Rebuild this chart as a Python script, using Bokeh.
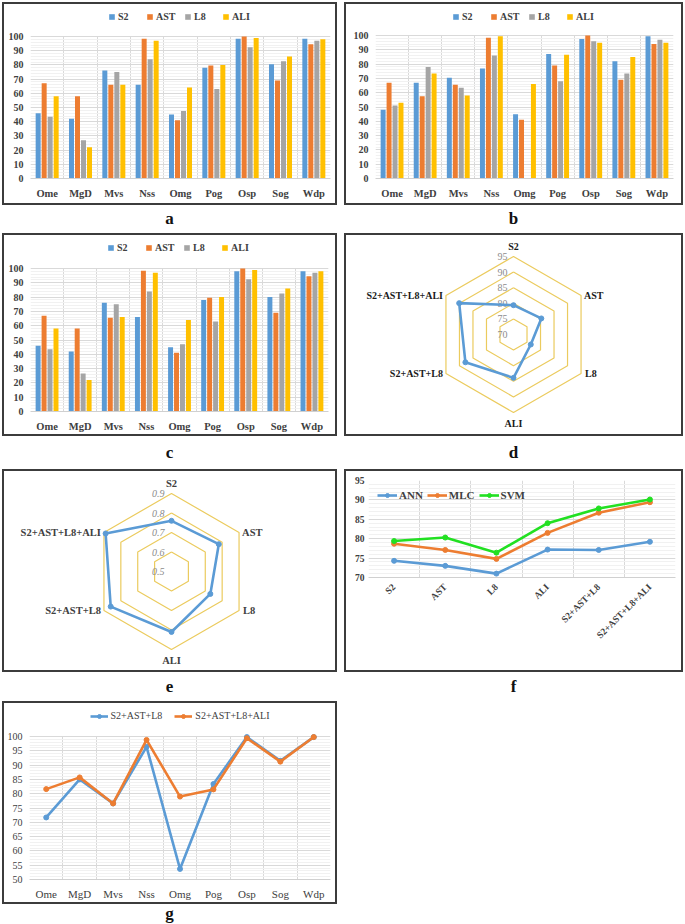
import math
import numpy as np
from bokeh.plotting import figure
from bokeh.models import Range1d, FixedTicker, Legend, LegendItem, Div
from bokeh.layouts import row, column
from bokeh.embed import file_html
from bokeh.resources import INLINE
from bokeh.core.properties import value

nan = float("nan")

# ---------------- data ----------------
classes = ["Ome", "MgD", "Mvs", "Nss", "Omg", "Pog", "Osp", "Sog", "Wdp"]
sensors = ["S2", "AST", "L8", "ALI"]

a_S2 = [46, 42, 76, 66, 45, 78, 98.5, 80.5, 98.5]
a_AST = [67, 58, 66, 98.5, 41, 79.5, 100, 69, 94.5]
a_L8 = [43.5, 27, 75, 84, 47.5, 63, 92.5, 82.5, 97]
a_ALI = [58, 22, 66, 97, 64, 80, 99, 86, 98]

b_S2 = [48, 67, 70.5, 77, 45, 87, 97.5, 82, 99.5]
b_AST = [67, 57.5, 65.5, 98.5, 41, 79, 100, 69, 94]
b_L8 = [51, 78, 63.5, 86, nan, 68, 96, 73.5, 97]
b_ALI = [53, 73.5, 58, 99.5, 66, 86.5, 95, 85, 95]

c_S2 = [46, 42, 76, 66, 45, 78, 98, 80, 98]
c_AST = [67, 58, 65.5, 98.5, 41, 79.5, 100, 69, 94.5]
c_L8 = [43.5, 26.5, 75, 84, 47, 63, 92.5, 82.5, 97]
c_ALI = [58, 22, 66, 97, 64, 80, 99, 86, 98]

datasets = ["S2", "AST", "L8", "ALI", "S2+AST+L8", "S2+AST+L8+ALI"]
d_values = [79.4, 80.3, 76.4, 83.9, 87.8, 90.1]
d_rings = [70, 75, 80, 85, 90, 95]
d_ring_labels = ["70", "75", "80", "85", "90", "95"]
e_values = [0.76, 0.78, 0.73, 0.81, 0.86, 0.89]
e_rings = [0.5, 0.6, 0.7, 0.8, 0.9]
e_ring_labels = ["0.5", "0.6", "0.7", "0.8", "0.9"]

classifiers = ["ANN", "MLC", "SVM"]
f_ANN = [74.3, 73.0, 71.0, 77.2, 77.1, 79.2]
f_MLC = [78.7, 77.1, 74.8, 81.5, 86.7, 89.4]
f_SVM = [79.4, 80.3, 76.4, 84.0, 87.8, 90.1]
f_ticks = [70, 75, 80, 85, 90, 95]

g_series = ["S2+AST+L8", "S2+AST+L8+ALI"]
g_S2_AST_L8 = [71.7, 85.0, 76.6, 96.4, 53.7, 83.4, 99.8, 91.5, 99.8]
g_S2_AST_L8_ALI = [81.6, 85.7, 76.6, 98.8, 79.0, 81.5, 99.4, 91.2, 99.8]
g_ticks = [50, 55, 60, 65, 70, 75, 80, 85, 90, 95, 100]
bar_ticks = [0, 10, 20, 30, 40, 50, 60, 70, 80, 90, 100]

# ---------------- style ----------------
BLUE, ORANGE, GRAY, GOLD, GREEN = "#5B9BD5", "#ED7D31", "#A5A5A5", "#FFC000", "#22E022"
sensor_colors = [BLUE, ORANGE, GRAY, GOLD]
SERIF = "Liberation Serif"
TXT = "#404040"
BW = 2                       # box border width
LW, RW, GAP = 335, 339, 7    # outer box widths
PH = 203                     # outer box height
IW_L, IW_R, IH = LW - 2 * BW, RW - 2 * BW, PH - 2 * BW
FRAME_TOP = 3


def boxed(p):
    return column(p, styles={"border": f"{BW}px solid #3c3c3c", "background-color": "white"})


def base_fig(w, xr, yr, left, right, top, bottom):
    p = figure(width=w, height=IH, x_range=xr, y_range=yr, output_backend="svg",
               toolbar_location=None, min_border_left=left, min_border_right=right,
               min_border_top=top, min_border_bottom=bottom)
    p.outline_line_color = None
    for ax in (p.xaxis[0], p.yaxis[0]):
        ax.major_tick_line_color = None
        ax.minor_tick_line_color = None
        ax.major_tick_out = 0
        ax.major_tick_in = 0
        ax.minor_tick_out = 0
        ax.minor_tick_in = 0
        ax.major_label_text_font = SERIF
        ax.major_label_text_color = TXT
    p.yaxis.axis_line_color = None
    p.xaxis.axis_line_color = "#D0D0D0"
    return p


def cat_axis(p, n, lo, hi):
    p.xaxis.ticker = FixedTicker(ticks=list(range(n)))
    p.xgrid.ticker = FixedTicker(ticks=[i - 0.5 for i in range(n + 1)])
    p.xgrid.grid_line_color = "#D9D9D9"
    p.xgrid.cross_bounds = (lo, hi)


def top_with_room(lo, hi, top_px, bottom):
    # extend the range above `hi` so that the frame reaches FRAME_TOP px from the canvas top
    span_px = IH - bottom - top_px
    per_px = (hi - lo) / span_px
    return hi + (top_px - FRAME_TOP) * per_px


def bar_panel(w, vals, left, right, top100, bottom):
    n = len(classes)
    ytop = top_with_room(0, 100, top100, bottom)
    p = base_fig(w, Range1d(-0.5, n - 0.5), Range1d(0, ytop), left, right, FRAME_TOP, bottom)
    cat_axis(p, n, 0, 100)
    p.xaxis.major_label_overrides = {i: c for i, c in enumerate(classes)}
    p.xaxis.major_label_text_font_size = "10.5px"
    p.xaxis.major_label_text_font_style = "bold"
    p.xaxis.major_label_standoff = 9
    p.yaxis.ticker = FixedTicker(ticks=bar_ticks, minor_ticks=list(range(0, 101, 2)))
    p.yaxis.major_label_text_font_size = "10px"
    p.yaxis.major_label_text_font_style = "bold"
    p.yaxis.major_label_standoff = 7
    p.ygrid.grid_line_color = "#D9D9D9"
    p.ygrid.minor_grid_line_color = "#F1F1F1"
    xs = np.arange(n)
    offsets = [-0.27, -0.09, 0.09, 0.27]
    items = []
    for s, v, off, col in zip(sensors, vals, offsets, sensor_colors):
        r = p.vbar(x=xs + off, top=v, width=0.15, fill_color=col, line_color=None)
        items.append(LegendItem(label=s, renderers=[r]))
    leg = Legend(items=items, orientation="horizontal", location="top_center",
                 label_text_font=SERIF, label_text_font_style="bold",
                 label_text_font_size="10px", label_text_color=TXT,
                 glyph_width=7, glyph_height=7, label_standoff=3, spacing=8,
                 padding=0, margin=4, border_line_color=None, background_fill_alpha=0)
    p.add_layout(leg, "center")
    return p


def radar_panel(w, cx, cy, R, vals, rings, ring_labels, label_color, label_size,
                ring_label_style, ring_dx):
    p = figure(width=w, height=IH, x_range=Range1d(-cx, w - cx), y_range=Range1d(-(IH - cy), cy),
               output_backend="svg", toolbar_location=None, min_border=0,
               x_axis_type=None, y_axis_type=None)
    p.grid.visible = False
    p.outline_line_color = None
    vmin, vmax = rings[0], rings[-1]
    ang = np.arange(len(datasets)) * 2 * np.pi / len(datasets)

    def pos(v):
        r = (np.asarray(v, dtype=float) - vmin) / (vmax - vmin) * R
        return r * np.sin(ang), r * np.cos(ang)

    for rv in rings[1:]:
        xs, ys = pos([rv] * len(datasets))
        p.line(list(xs) + [xs[0]], list(ys) + [ys[0]], line_color="#EBCB5E", line_width=1.2)
    for rv, lab in zip(rings, ring_labels):
        _, ys = pos([rv] * len(datasets))
        p.text(x=[0], y=[ys[0]], text=[lab], text_align="right", text_baseline="middle",
               x_offset=ring_dx, text_font=value(SERIF), text_font_size="10px",
               text_color="#8C8C8C", text_font_style=ring_label_style)
    xs, ys = pos(vals)
    p.line(list(xs) + [xs[0]], list(ys) + [ys[0]], line_color=BLUE, line_width=2.6)
    p.scatter(xs, ys, size=5, color=BLUE)
    ox, oy = pos([vmax] * len(datasets))
    anchors = [("center", "bottom", 0, -5), ("left", "middle", 3, 0), ("left", "middle", 4, 0),
               ("center", "top", 0, 5), ("right", "middle", -3, 0), ("right", "middle", -3, 0)]
    for i, lab in enumerate(datasets):
        al, bl, dx, dy = anchors[i]
        p.text(x=[ox[i]], y=[oy[i]], text=[lab], text_align=al, text_baseline=bl,
               x_offset=dx, y_offset=dy, text_font=value(SERIF), text_font_size=label_size,
               text_font_style="bold", text_color=label_color)
    return p


def line_f():
    n = len(datasets)
    p = base_fig(IW_R, Range1d(-0.5, n - 0.5), Range1d(70, 95), 22, 6, 9, 93)
    cat_axis(p, n, 70, 95)
    p.xaxis.major_label_overrides = {i: c for i, c in enumerate(datasets)}
    p.xaxis.major_label_orientation = math.pi / 4
    p.xaxis.major_label_text_font_size = "9.5px"
    p.xaxis.major_label_text_font_style = "bold"
    p.xaxis.major_label_standoff = 8
    p.yaxis.ticker = FixedTicker(ticks=f_ticks, minor_ticks=list(range(70, 96)))
    p.yaxis.major_label_text_font_size = "9.5px"
    p.yaxis.major_label_text_font_style = "bold"
    p.yaxis.major_label_standoff = 4
    p.ygrid.grid_line_color = "#D9D9D9"
    p.ygrid.minor_grid_line_color = "#F1F1F1"
    xs = list(range(n))
    items = []
    for name, v, col in zip(classifiers, [f_ANN, f_MLC, f_SVM], [BLUE, ORANGE, GREEN]):
        l = p.line(xs, v, line_color=col, line_width=2.6)
        s = p.scatter(xs, v, size=5, color=col)
        items.append(LegendItem(label=name, renderers=[l, s]))
    leg = Legend(items=items, orientation="horizontal", location="top_left",
                 label_text_font=SERIF, label_text_font_style="bold",
                 label_text_font_size="11px", label_text_color=TXT,
                 glyph_width=20, glyph_height=10, label_standoff=2, spacing=4,
                 padding=0, margin=9, border_line_color=None, background_fill_alpha=0)
    p.add_layout(leg, "center")
    return p


def line_g():
    n = len(classes)
    bottom = 23
    ytop = top_with_room(50, 100, 33, bottom)
    p = base_fig(IW_L, Range1d(-0.5, n - 0.5), Range1d(50, ytop), 25, 5, FRAME_TOP, bottom)
    cat_axis(p, n, 50, 100)
    p.xaxis.major_label_overrides = {i: c for i, c in enumerate(classes)}
    p.xaxis.major_label_text_font_size = "11px"
    p.xaxis.major_label_standoff = 8
    p.yaxis.ticker = FixedTicker(ticks=g_ticks, minor_ticks=list(range(50, 101)))
    p.yaxis.major_label_text_font_size = "10px"
    p.yaxis.major_label_standoff = 7
    p.ygrid.grid_line_color = "#D9D9D9"
    p.ygrid.minor_grid_line_color = "#F1F1F1"
    xs = list(range(n))
    items = []
    for name, v, col in zip(g_series, [g_S2_AST_L8, g_S2_AST_L8_ALI], [BLUE, ORANGE]):
        l = p.line(xs, v, line_color=col, line_width=2.6)
        s = p.scatter(xs, v, size=5, color=col)
        items.append(LegendItem(label=name, renderers=[l, s]))
    leg = Legend(items=items, orientation="horizontal", location="top_center",
                 label_text_font=SERIF, label_text_font_size="10px", label_text_color=TXT,
                 glyph_width=18, glyph_height=10, label_standoff=3, spacing=12,
                 padding=0, margin=4, border_line_color=None, background_fill_alpha=0)
    p.add_layout(leg, "center")
    return p


def letter(t, w, h):
    return Div(text=(f'<div style="width:{w}px;height:{h}px;line-height:{h}px;text-align:center;'
                     f'font-family:{SERIF};font-weight:bold;font-size:17px;color:#111111">{t}</div>'),
               width=w, height=h, margin=0, width_policy="fixed", height_policy="fixed",
               styles={"width": f"{w}px", "height": f"{h}px", "overflow": "hidden"})


pa = bar_panel(IW_L, [a_S2, a_AST, a_L8, a_ALI], 26, 5, 32, 25)
pb = bar_panel(IW_R, [b_S2, b_AST, b_L8, b_ALI], 29, 8, 31, 25)
pc = bar_panel(IW_L, [c_S2, c_AST, c_L8, c_ALI], 26, 7, 33, 23)
pd = radar_panel(IW_R, 167, 99, 78, d_values, d_rings, d_ring_labels, "#1A1A1A", "10px",
                 "normal", -6)
pe = radar_panel(IW_L, 167, 100, 78, e_values, e_rings, e_ring_labels, "#404040", "10.5px",
                 "italic", -7)
pf = line_f()
pg = line_g()

layout = column(
    row(boxed(pa), boxed(pb), spacing=GAP),
    row(letter("a", LW, 28), letter("b", RW, 28), spacing=GAP),
    row(boxed(pc), boxed(pd), spacing=GAP),
    row(letter("c", LW, 33), letter("d", RW, 33), spacing=GAP),
    row(boxed(pe), boxed(pf), spacing=GAP),
    row(letter("e", LW, 29), letter("f", RW, 29), spacing=GAP),
    row(boxed(pg)),
    row(letter("g", LW, 19)),
    spacing=0,
    margin=(2, 0, 0, 2),
)

with open("out.html", "w") as fh:
    fh.write(file_html(layout, INLINE))
